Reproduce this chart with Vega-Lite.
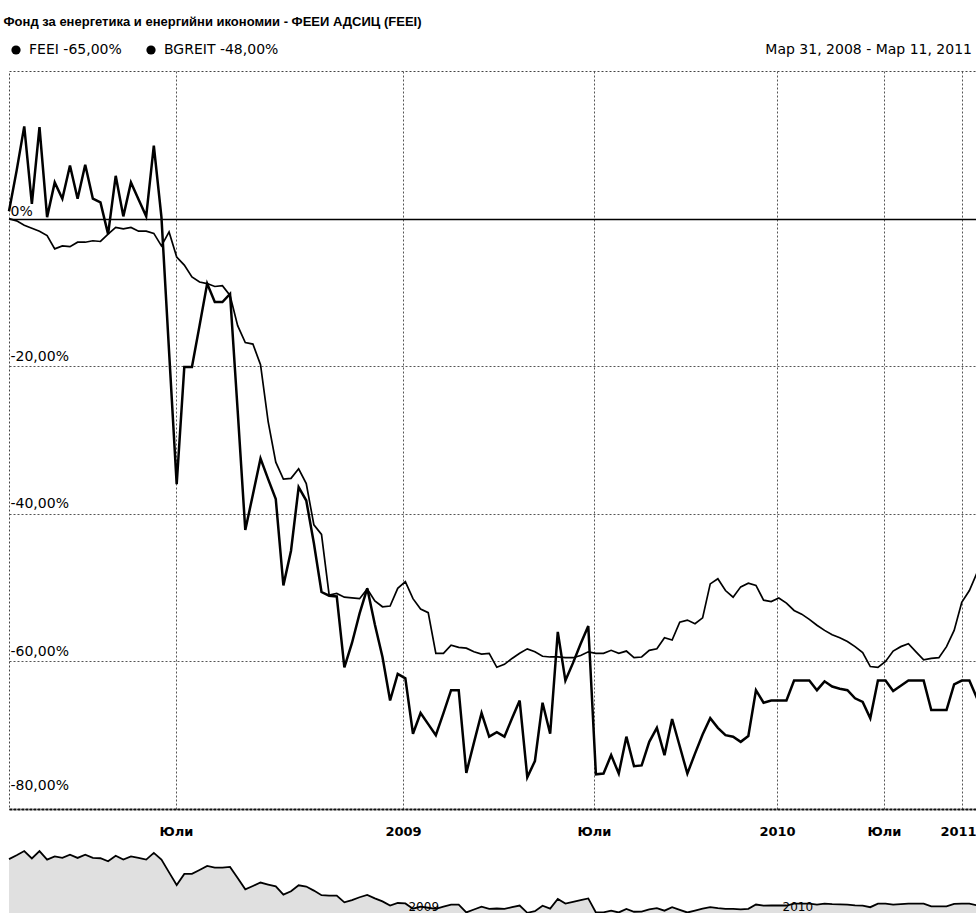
{
  "$schema": "https://vega.github.io/schema/vega-lite/v6.json",
  "background": "white",
  "padding": {"left": 3, "top": 15, "right": 0, "bottom": 0},
  "title": {"text": "Фонд за енергетика и енергийни икономии - ФЕЕИ АДСИЦ (FEEI)", "anchor": "start", "font": "Liberation Sans", "fontSize": 13, "fontWeight": "bold", "color": "#000", "offset": 14},
  "datasets": {
    "series": [
      {"i":0,"s":"FEEI","v":1},{"i":1,"s":"FEEI","v":6.5},{"i":2,"s":"FEEI","v":12.5},{"i":3,"s":"FEEI","v":2},{"i":4,"s":"FEEI","v":12.4},{"i":5,"s":"FEEI","v":0.2},{"i":6,"s":"FEEI","v":4.9},{"i":7,"s":"FEEI","v":2.7},{"i":8,"s":"FEEI","v":7.2},{"i":9,"s":"FEEI","v":2.7},
      {"i":10,"s":"FEEI","v":7.3},{"i":11,"s":"FEEI","v":2.7},{"i":12,"s":"FEEI","v":2.2},{"i":13,"s":"FEEI","v":-2.1},{"i":14,"s":"FEEI","v":5.8},{"i":15,"s":"FEEI","v":0.3},{"i":16,"s":"FEEI","v":4.9},{"i":17,"s":"FEEI","v":2.6},{"i":18,"s":"FEEI","v":0.3},{"i":19,"s":"FEEI","v":9.9},
      {"i":20,"s":"FEEI","v":0.2},{"i":21,"s":"FEEI","v":-18},{"i":22,"s":"FEEI","v":-36},{"i":23,"s":"FEEI","v":-20.1},{"i":24,"s":"FEEI","v":-20.1},{"i":25,"s":"FEEI","v":-14.5},{"i":26,"s":"FEEI","v":-8.8},{"i":27,"s":"FEEI","v":-11.3},{"i":28,"s":"FEEI","v":-11.3},{"i":29,"s":"FEEI","v":-10.2},
      {"i":30,"s":"FEEI","v":-26},{"i":31,"s":"FEEI","v":-42.2},{"i":32,"s":"FEEI","v":-37.4},{"i":33,"s":"FEEI","v":-32.5},{"i":34,"s":"FEEI","v":-35.3},{"i":35,"s":"FEEI","v":-38},{"i":36,"s":"FEEI","v":-49.7},{"i":37,"s":"FEEI","v":-45},{"i":38,"s":"FEEI","v":-36.4},{"i":39,"s":"FEEI","v":-38.2},
      {"i":40,"s":"FEEI","v":-44},{"i":41,"s":"FEEI","v":-50.6},{"i":42,"s":"FEEI","v":-51.1},{"i":43,"s":"FEEI","v":-51.2},{"i":44,"s":"FEEI","v":-60.8},{"i":45,"s":"FEEI","v":-57.5},{"i":46,"s":"FEEI","v":-53.5},{"i":47,"s":"FEEI","v":-50.1},{"i":48,"s":"FEEI","v":-55},{"i":49,"s":"FEEI","v":-59.4},
      {"i":50,"s":"FEEI","v":-65.3},{"i":51,"s":"FEEI","v":-61.7},{"i":52,"s":"FEEI","v":-62.3},{"i":53,"s":"FEEI","v":-69.8},{"i":54,"s":"FEEI","v":-67},{"i":55,"s":"FEEI","v":-68.5},{"i":56,"s":"FEEI","v":-70},{"i":57,"s":"FEEI","v":-67},{"i":58,"s":"FEEI","v":-63.9},{"i":59,"s":"FEEI","v":-63.9},
      {"i":60,"s":"FEEI","v":-75.1},{"i":61,"s":"FEEI","v":-71},{"i":62,"s":"FEEI","v":-67},{"i":63,"s":"FEEI","v":-70.2},{"i":64,"s":"FEEI","v":-69.6},{"i":65,"s":"FEEI","v":-70.2},{"i":66,"s":"FEEI","v":-67.7},{"i":67,"s":"FEEI","v":-65.3},{"i":68,"s":"FEEI","v":-75.7},{"i":69,"s":"FEEI","v":-73.5},
      {"i":70,"s":"FEEI","v":-65.6},{"i":71,"s":"FEEI","v":-69.8},{"i":72,"s":"FEEI","v":-56},{"i":73,"s":"FEEI","v":-62.6},{"i":74,"s":"FEEI","v":-60.2},{"i":75,"s":"FEEI","v":-57.6},{"i":76,"s":"FEEI","v":-55.2},{"i":77,"s":"FEEI","v":-75.3},{"i":78,"s":"FEEI","v":-75.2},{"i":79,"s":"FEEI","v":-72.7},
      {"i":80,"s":"FEEI","v":-75.2},{"i":81,"s":"FEEI","v":-70.2},{"i":82,"s":"FEEI","v":-74.2},{"i":83,"s":"FEEI","v":-74.1},{"i":84,"s":"FEEI","v":-70.9},{"i":85,"s":"FEEI","v":-69},{"i":86,"s":"FEEI","v":-72.7},{"i":87,"s":"FEEI","v":-67.8},{"i":88,"s":"FEEI","v":-71.5},{"i":89,"s":"FEEI","v":-75.2},
      {"i":90,"s":"FEEI","v":-72.5},{"i":91,"s":"FEEI","v":-69.9},{"i":92,"s":"FEEI","v":-67.7},{"i":93,"s":"FEEI","v":-69},{"i":94,"s":"FEEI","v":-70},{"i":95,"s":"FEEI","v":-70.2},{"i":96,"s":"FEEI","v":-70.9},{"i":97,"s":"FEEI","v":-70.1},{"i":98,"s":"FEEI","v":-63.9},{"i":99,"s":"FEEI","v":-65.6},
      {"i":100,"s":"FEEI","v":-65.3},{"i":101,"s":"FEEI","v":-65.3},{"i":102,"s":"FEEI","v":-65.3},{"i":103,"s":"FEEI","v":-62.6},{"i":104,"s":"FEEI","v":-62.6},{"i":105,"s":"FEEI","v":-62.6},{"i":106,"s":"FEEI","v":-63.9},{"i":107,"s":"FEEI","v":-62.7},{"i":108,"s":"FEEI","v":-63.4},{"i":109,"s":"FEEI","v":-63.7},
      {"i":110,"s":"FEEI","v":-63.9},{"i":111,"s":"FEEI","v":-65},{"i":112,"s":"FEEI","v":-65.5},{"i":113,"s":"FEEI","v":-67.7},{"i":114,"s":"FEEI","v":-62.6},{"i":115,"s":"FEEI","v":-62.6},{"i":116,"s":"FEEI","v":-64},{"i":117,"s":"FEEI","v":-63.3},{"i":118,"s":"FEEI","v":-62.6},{"i":119,"s":"FEEI","v":-62.6},
      {"i":120,"s":"FEEI","v":-62.6},{"i":121,"s":"FEEI","v":-66.6},{"i":122,"s":"FEEI","v":-66.6},{"i":123,"s":"FEEI","v":-66.6},{"i":124,"s":"FEEI","v":-63.1},{"i":125,"s":"FEEI","v":-62.6},{"i":126,"s":"FEEI","v":-62.6},{"i":127,"s":"FEEI","v":-65},
      {"i":0,"s":"BGREIT","v":0},{"i":1,"s":"BGREIT","v":-0.3},{"i":2,"s":"BGREIT","v":-0.9},{"i":3,"s":"BGREIT","v":-1.3},{"i":4,"s":"BGREIT","v":-1.7},{"i":5,"s":"BGREIT","v":-2.3},{"i":6,"s":"BGREIT","v":-4.1},{"i":7,"s":"BGREIT","v":-3.7},{"i":8,"s":"BGREIT","v":-3.8},{"i":9,"s":"BGREIT","v":-3.2},
      {"i":10,"s":"BGREIT","v":-3.2},{"i":11,"s":"BGREIT","v":-3},{"i":12,"s":"BGREIT","v":-3.1},{"i":13,"s":"BGREIT","v":-2.1},{"i":14,"s":"BGREIT","v":-1.2},{"i":15,"s":"BGREIT","v":-1.4},{"i":16,"s":"BGREIT","v":-1.2},{"i":17,"s":"BGREIT","v":-1.7},{"i":18,"s":"BGREIT","v":-1.7},{"i":19,"s":"BGREIT","v":-2},
      {"i":20,"s":"BGREIT","v":-3.7},{"i":21,"s":"BGREIT","v":-1.8},{"i":22,"s":"BGREIT","v":-5.2},{"i":23,"s":"BGREIT","v":-6.3},{"i":24,"s":"BGREIT","v":-7.9},{"i":25,"s":"BGREIT","v":-8.6},{"i":26,"s":"BGREIT","v":-8.8},{"i":27,"s":"BGREIT","v":-9.2},{"i":28,"s":"BGREIT","v":-9.1},{"i":29,"s":"BGREIT","v":-10.4},
      {"i":30,"s":"BGREIT","v":-14.5},{"i":31,"s":"BGREIT","v":-16.8},{"i":32,"s":"BGREIT","v":-17},{"i":33,"s":"BGREIT","v":-19.8},{"i":34,"s":"BGREIT","v":-27.5},{"i":35,"s":"BGREIT","v":-33},{"i":36,"s":"BGREIT","v":-35.3},{"i":37,"s":"BGREIT","v":-35.2},{"i":38,"s":"BGREIT","v":-33.9},{"i":39,"s":"BGREIT","v":-35.9},
      {"i":40,"s":"BGREIT","v":-41.5},{"i":41,"s":"BGREIT","v":-42.8},{"i":42,"s":"BGREIT","v":-51},{"i":43,"s":"BGREIT","v":-50.8},{"i":44,"s":"BGREIT","v":-51.3},{"i":45,"s":"BGREIT","v":-51.4},{"i":46,"s":"BGREIT","v":-51.5},{"i":47,"s":"BGREIT","v":-50.2},{"i":48,"s":"BGREIT","v":-51.8},{"i":49,"s":"BGREIT","v":-52.6},
      {"i":50,"s":"BGREIT","v":-52.5},{"i":51,"s":"BGREIT","v":-50.1},{"i":52,"s":"BGREIT","v":-49.2},{"i":53,"s":"BGREIT","v":-51.5},{"i":54,"s":"BGREIT","v":-52.9},{"i":55,"s":"BGREIT","v":-53.4},{"i":56,"s":"BGREIT","v":-58.9},{"i":57,"s":"BGREIT","v":-58.9},{"i":58,"s":"BGREIT","v":-57.8},{"i":59,"s":"BGREIT","v":-58.1},
      {"i":60,"s":"BGREIT","v":-58.2},{"i":61,"s":"BGREIT","v":-58.7},{"i":62,"s":"BGREIT","v":-59},{"i":63,"s":"BGREIT","v":-58.9},{"i":64,"s":"BGREIT","v":-60.8},{"i":65,"s":"BGREIT","v":-60.4},{"i":66,"s":"BGREIT","v":-59.6},{"i":67,"s":"BGREIT","v":-58.9},{"i":68,"s":"BGREIT","v":-58.3},{"i":69,"s":"BGREIT","v":-58.7},
      {"i":70,"s":"BGREIT","v":-59.3},{"i":71,"s":"BGREIT","v":-59.4},{"i":72,"s":"BGREIT","v":-59.4},{"i":73,"s":"BGREIT","v":-59.5},{"i":74,"s":"BGREIT","v":-59.5},{"i":75,"s":"BGREIT","v":-59.2},{"i":76,"s":"BGREIT","v":-58.7},{"i":77,"s":"BGREIT","v":-58.9},{"i":78,"s":"BGREIT","v":-58.9},{"i":79,"s":"BGREIT","v":-58.5},
      {"i":80,"s":"BGREIT","v":-58.9},{"i":81,"s":"BGREIT","v":-58.6},{"i":82,"s":"BGREIT","v":-59.5},{"i":83,"s":"BGREIT","v":-59.4},{"i":84,"s":"BGREIT","v":-58.5},{"i":85,"s":"BGREIT","v":-58.3},{"i":86,"s":"BGREIT","v":-56.8},{"i":87,"s":"BGREIT","v":-57.1},{"i":88,"s":"BGREIT","v":-54.7},{"i":89,"s":"BGREIT","v":-54.4},
      {"i":90,"s":"BGREIT","v":-54.9},{"i":91,"s":"BGREIT","v":-54.1},{"i":92,"s":"BGREIT","v":-49.5},{"i":93,"s":"BGREIT","v":-48.8},{"i":94,"s":"BGREIT","v":-50.4},{"i":95,"s":"BGREIT","v":-51.3},{"i":96,"s":"BGREIT","v":-49.9},{"i":97,"s":"BGREIT","v":-49.4},{"i":98,"s":"BGREIT","v":-49.7},{"i":99,"s":"BGREIT","v":-51.7},
      {"i":100,"s":"BGREIT","v":-51.9},{"i":101,"s":"BGREIT","v":-51.4},{"i":102,"s":"BGREIT","v":-52.1},{"i":103,"s":"BGREIT","v":-53.1},{"i":104,"s":"BGREIT","v":-53.6},{"i":105,"s":"BGREIT","v":-54.3},{"i":106,"s":"BGREIT","v":-55.1},{"i":107,"s":"BGREIT","v":-55.8},{"i":108,"s":"BGREIT","v":-56.4},{"i":109,"s":"BGREIT","v":-56.8},
      {"i":110,"s":"BGREIT","v":-57.3},{"i":111,"s":"BGREIT","v":-58},{"i":112,"s":"BGREIT","v":-58.8},{"i":113,"s":"BGREIT","v":-60.7},{"i":114,"s":"BGREIT","v":-60.8},{"i":115,"s":"BGREIT","v":-60},{"i":116,"s":"BGREIT","v":-58.6},{"i":117,"s":"BGREIT","v":-58},{"i":118,"s":"BGREIT","v":-57.6},{"i":119,"s":"BGREIT","v":-58.7},
      {"i":120,"s":"BGREIT","v":-59.8},{"i":121,"s":"BGREIT","v":-59.6},{"i":122,"s":"BGREIT","v":-59.5},{"i":123,"s":"BGREIT","v":-58},{"i":124,"s":"BGREIT","v":-55.8},{"i":125,"s":"BGREIT","v":-52},{"i":126,"s":"BGREIT","v":-50.4},{"i":127,"s":"BGREIT","v":-48}
    ]
  },
  "data": {"name": "series"},
  "spacing": 4,
  "resolve": {"legend": {"color": "independent"}, "scale": {"color": "independent"}},
  "vconcat": [
    {
      "width": 968,
      "height": 738,
      "title": {"text": "Мар 31, 2008 - Мар 11, 2011", "anchor": "end", "frame": "group", "dx": -5, "font": "DejaVu Sans", "fontSize": 14, "fontWeight": "normal", "color": "#000", "offset": -14},
      "mark": {"type": "line"},
      "encoding": {
        "x": {
          "field": "i", "type": "quantitative",
          "scale": {"domain": [0, 127], "nice": false, "zero": false},
          "axis": {
            "values": [21.91, 51.69, 76.75, 100.76, 114.8, 125.03],
            "labelExpr": "datum.value < 30 ? 'Юли' : datum.value < 60 ? '2009' : datum.value < 90 ? 'Юли' : datum.value < 110 ? '2010' : datum.value < 120 ? 'Юли' : '2011'",
            "title": null, "grid": true, "gridColor": "#555", "gridDash": [2, 2], "gridWidth": 1,
            "ticks": false, "domain": true, "domainColor": "#111", "domainWidth": 2, "domainDash": [3, 1],
            "labelPadding": 16, "labelFont": "DejaVu Sans", "labelFontSize": 13, "labelFontWeight": "bold", "labelColor": "#000", "labelFlush": false,
            "labelOffset": {"condition": {"test": "datum.value > 120", "value": -4}, "value": 0}
          }
        },
        "y": {
          "field": "v", "type": "quantitative",
          "scale": {"domain": [-80, 20], "nice": false, "zero": false},
          "axis": {
            "values": [0, -20, -40, -60, -80],
            "labelExpr": "datum.value == 0 ? '0%' : datum.value + ',00%'",
            "title": null, "grid": true,
            "gridColor": {"condition": {"test": "datum.value == 0", "value": "#000"}, "value": "#555"},
            "gridDash": {"condition": {"test": "datum.value == 0", "value": []}, "value": [2, 2]},
            "gridWidth": {"condition": {"test": "datum.value == 0", "value": 1.5}, "value": 1},
            "ticks": false, "domain": false,
            "labelAlign": "left", "labelBaseline": "bottom", "labelPadding": -1,
            "labelOffset": {"condition": [{"test": "datum.value == -80", "value": -17}, {"test": "datum.value == 0", "value": 0}], "value": -3},
            "labelFont": "DejaVu Sans", "labelFontSize": 14, "labelColor": "#000"
          }
        },
        "color": {
          "field": "s", "type": "nominal",
          "scale": {"domain": ["FEEI", "BGREIT"], "range": ["#000000", "#000000"]},
          "legend": {
            "orient": "none", "legendX": 0, "legendY": -28, "direction": "horizontal", "title": null,
            "symbolType": "circle", "symbolSize": 85, "symbolFillColor": "#000", "symbolStrokeWidth": 0,
            "labelFont": "DejaVu Sans", "labelFontSize": 14, "labelColor": "#000", "labelOffset": 6, "columnPadding": 22,
            "labelExpr": "datum.label == 'FEEI' ? 'FEEI -65,00%' : 'BGREIT -48,00%'"
          }
        },
        "strokeWidth": {
          "field": "s", "type": "nominal",
          "scale": {"domain": ["FEEI", "BGREIT"], "range": [2.5, 1.7]},
          "legend": null
        }
      }
    },
    {
      "width": 968,
      "height": 70,
      "view": {"stroke": null},
      "transform": [{"filter": "datum.s == 'FEEI'"}],
      "mark": {"type": "area", "color": "#d3d3d3", "line": {"color": "#000", "strokeWidth": 1.8}},
      "encoding": {
        "x": {
          "field": "i", "type": "quantitative",
          "scale": {"domain": [0, 127], "nice": false, "zero": false},
          "axis": {
            "values": [51.69, 100.76],
            "labelExpr": "datum.value < 80 ? '2009' : '2010'",
            "title": null, "grid": false, "ticks": false, "domain": false, "zindex": 1,
            "labelAlign": "left", "labelBaseline": "alphabetic", "labelPadding": -3, "labelOffset": 5,
            "labelFont": "DejaVu Sans", "labelFontSize": 12, "labelColor": "#000", "labelFlush": false
          }
        },
        "y": {
          "field": "v", "type": "quantitative",
          "scale": {"domain": [-76, 24], "nice": false, "zero": false},
          "axis": null
        },
        "y2": {"datum": -76}
      }
    }
  ],
  "config": {
    "font": "DejaVu Sans",
    "view": {"stroke": "#444", "strokeDash": [2, 2], "strokeWidth": 1}
  }
}
